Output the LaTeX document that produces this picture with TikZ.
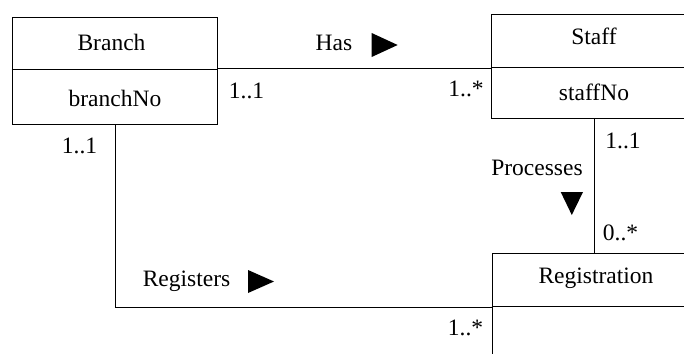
\documentclass[tikz,border=0pt]{standalone}
\usepackage{fontspec}
\setmainfont{Liberation Serif}
\begin{document}
\begin{tikzpicture}[x=1pt,y=-1pt,line width=1pt,
  box/.style={draw,rectangle,inner sep=0pt,anchor=north west},
  lbl/.style={anchor=base,inner sep=0pt,font=\fontsize{23.5}{28}\selectfont},
  tri/.style={fill=black,draw=none}]
\useasboundingbox (0,0) rectangle (684,353);
\clip (0,0) rectangle (684,353);
% classes
\node[box,minimum width=205pt,minimum height=107.3pt] (branch) at (11.7,16.7) {};
\node[box,minimum width=240pt,minimum height=104.3pt] (staff) at (490.7,14) {};
\node[box,minimum width=240pt,minimum height=160pt] (reg) at (491.7,253.3) {};
\draw (branch.west |- 0,69.3) -- (branch.east |- 0,69.3);
\draw (staff.west |- 0,67) -- (staff.east |- 0,67);
\draw (reg.west |- 0,306) -- (reg.east |- 0,306);
% class texts
\node[lbl] (tBranch) at (111.5,50) {Branch};
\node[lbl] (tBranchNo) at (115,106) {branchNo};
\node[lbl] (tStaff) at (594,45) {Staff};
\node[lbl] (tStaffNo) at (594,100) {staffNo};
\node[lbl] (tReg) at (596,283) {Registration};
% connectors
\draw (branch.east |- 0,68.5) -- (staff.west |- 0,68.5);
\draw (branch.south -| 115,0) |- (reg.west |- 0,307);
\draw (staff.south -| 594,0) -- (reg.north -| 594,0);
% association labels
\node[lbl] (tHas) at (334,50) {Has};
\node[lbl] (tProc) at (537,175) {Processes};
\node[lbl] (tRegs) at (186.5,286.5) {Registers};
\fill (371.7,33) -- (397.7,45) -- (371.7,57) -- cycle;
\fill (560.7,192) -- (583,192) -- (571.8,215) -- cycle;
\fill (248,270) -- (274,281.5) -- (248,293) -- cycle;
% multiplicities
\node[lbl] (m1) at (246.5,98.3) {1..1};
\node[lbl] (m2) at (466,96.7) {1..*};
\node[lbl] (m3) at (79.5,153.3) {1..1};
\node[lbl] (m4) at (623,148.3) {1..1};
\node[lbl] (m5) at (620.5,240) {0..*};
\node[lbl] (m6) at (465.5,335) {1..*};
\end{tikzpicture}
\end{document}
